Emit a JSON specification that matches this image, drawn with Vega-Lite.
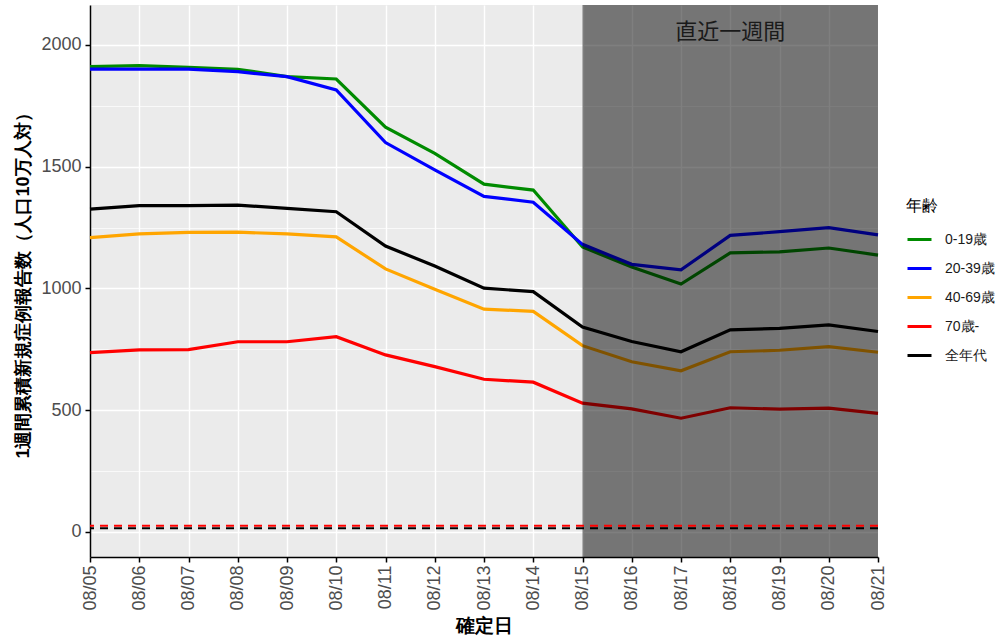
{
  "$schema": "https://vega.github.io/schema/vega-lite/v6.json",
  "width": 788,
  "height": 552,
  "autosize": {"type": "none"},
  "padding": {"left": 90, "top": 5, "right": 118, "bottom": 84},
  "background": "white",
  "config": {
    "view": {"fill": "#EBEBEB", "stroke": null},
    "font": "Liberation Sans"
  },
  "datasets": {
    "series": [
      {"date": "2020-08-05", "age": "0-19歳", "value": 1911},
      {"date": "2020-08-06", "age": "0-19歳", "value": 1915},
      {"date": "2020-08-07", "age": "0-19歳", "value": 1908},
      {"date": "2020-08-08", "age": "0-19歳", "value": 1900},
      {"date": "2020-08-09", "age": "0-19歳", "value": 1870},
      {"date": "2020-08-10", "age": "0-19歳", "value": 1860},
      {"date": "2020-08-11", "age": "0-19歳", "value": 1662},
      {"date": "2020-08-12", "age": "0-19歳", "value": 1555},
      {"date": "2020-08-13", "age": "0-19歳", "value": 1428},
      {"date": "2020-08-14", "age": "0-19歳", "value": 1404},
      {"date": "2020-08-15", "age": "0-19歳", "value": 1170},
      {"date": "2020-08-16", "age": "0-19歳", "value": 1088},
      {"date": "2020-08-17", "age": "0-19歳", "value": 1018},
      {"date": "2020-08-18", "age": "0-19歳", "value": 1146},
      {"date": "2020-08-19", "age": "0-19歳", "value": 1150},
      {"date": "2020-08-20", "age": "0-19歳", "value": 1166},
      {"date": "2020-08-21", "age": "0-19歳", "value": 1137},
      {"date": "2020-08-05", "age": "20-39歳", "value": 1901},
      {"date": "2020-08-06", "age": "20-39歳", "value": 1901},
      {"date": "2020-08-07", "age": "20-39歳", "value": 1901},
      {"date": "2020-08-08", "age": "20-39歳", "value": 1890},
      {"date": "2020-08-09", "age": "20-39歳", "value": 1870},
      {"date": "2020-08-10", "age": "20-39歳", "value": 1815},
      {"date": "2020-08-11", "age": "20-39歳", "value": 1599},
      {"date": "2020-08-12", "age": "20-39歳", "value": 1487},
      {"date": "2020-08-13", "age": "20-39歳", "value": 1378},
      {"date": "2020-08-14", "age": "20-39歳", "value": 1354},
      {"date": "2020-08-15", "age": "20-39歳", "value": 1181},
      {"date": "2020-08-16", "age": "20-39歳", "value": 1099},
      {"date": "2020-08-17", "age": "20-39歳", "value": 1076},
      {"date": "2020-08-18", "age": "20-39歳", "value": 1218},
      {"date": "2020-08-19", "age": "20-39歳", "value": 1233},
      {"date": "2020-08-20", "age": "20-39歳", "value": 1250},
      {"date": "2020-08-21", "age": "20-39歳", "value": 1220},
      {"date": "2020-08-05", "age": "40-69歳", "value": 1209},
      {"date": "2020-08-06", "age": "40-69歳", "value": 1224},
      {"date": "2020-08-07", "age": "40-69歳", "value": 1230},
      {"date": "2020-08-08", "age": "40-69歳", "value": 1231},
      {"date": "2020-08-09", "age": "40-69歳", "value": 1224},
      {"date": "2020-08-10", "age": "40-69歳", "value": 1212},
      {"date": "2020-08-11", "age": "40-69歳", "value": 1080},
      {"date": "2020-08-12", "age": "40-69歳", "value": 997},
      {"date": "2020-08-13", "age": "40-69歳", "value": 915},
      {"date": "2020-08-14", "age": "40-69歳", "value": 906},
      {"date": "2020-08-15", "age": "40-69歳", "value": 765},
      {"date": "2020-08-16", "age": "40-69歳", "value": 699},
      {"date": "2020-08-17", "age": "40-69歳", "value": 662},
      {"date": "2020-08-18", "age": "40-69歳", "value": 740},
      {"date": "2020-08-19", "age": "40-69歳", "value": 746},
      {"date": "2020-08-20", "age": "40-69歳", "value": 761},
      {"date": "2020-08-21", "age": "40-69歳", "value": 738},
      {"date": "2020-08-05", "age": "70歳-", "value": 736},
      {"date": "2020-08-06", "age": "70歳-", "value": 748},
      {"date": "2020-08-07", "age": "70歳-", "value": 749},
      {"date": "2020-08-08", "age": "70歳-", "value": 781},
      {"date": "2020-08-09", "age": "70歳-", "value": 781},
      {"date": "2020-08-10", "age": "70歳-", "value": 802},
      {"date": "2020-08-11", "age": "70歳-", "value": 727},
      {"date": "2020-08-12", "age": "70歳-", "value": 679},
      {"date": "2020-08-13", "age": "70歳-", "value": 627},
      {"date": "2020-08-14", "age": "70歳-", "value": 615},
      {"date": "2020-08-15", "age": "70歳-", "value": 529},
      {"date": "2020-08-16", "age": "70歳-", "value": 505},
      {"date": "2020-08-17", "age": "70歳-", "value": 467},
      {"date": "2020-08-18", "age": "70歳-", "value": 510},
      {"date": "2020-08-19", "age": "70歳-", "value": 504},
      {"date": "2020-08-20", "age": "70歳-", "value": 508},
      {"date": "2020-08-21", "age": "70歳-", "value": 487},
      {"date": "2020-08-05", "age": "全年代", "value": 1326},
      {"date": "2020-08-06", "age": "全年代", "value": 1340},
      {"date": "2020-08-07", "age": "全年代", "value": 1340},
      {"date": "2020-08-08", "age": "全年代", "value": 1342},
      {"date": "2020-08-09", "age": "全年代", "value": 1329},
      {"date": "2020-08-10", "age": "全年代", "value": 1315},
      {"date": "2020-08-11", "age": "全年代", "value": 1174},
      {"date": "2020-08-12", "age": "全年代", "value": 1092},
      {"date": "2020-08-13", "age": "全年代", "value": 1001},
      {"date": "2020-08-14", "age": "全年代", "value": 987},
      {"date": "2020-08-15", "age": "全年代", "value": 841},
      {"date": "2020-08-16", "age": "全年代", "value": 782},
      {"date": "2020-08-17", "age": "全年代", "value": 740},
      {"date": "2020-08-18", "age": "全年代", "value": 830},
      {"date": "2020-08-19", "age": "全年代", "value": 836},
      {"date": "2020-08-20", "age": "全年代", "value": 850},
      {"date": "2020-08-21", "age": "全年代", "value": 823}
    ]
  },
  "layer": [
    {
      "data": {"name": "series"},
      "mark": {"type": "line", "strokeWidth": 3.2},
      "encoding": {
        "x": {
          "field": "date",
          "type": "temporal",
          "title": "確定日",
          "scale": {
            "type": "utc",
            "nice": false,
            "domain": [
              {"year": 2020, "month": 8, "date": 5, "utc": true},
              {"year": 2020, "month": 8, "date": 21, "utc": true}
            ]
          },
          "axis": {
            "values": [1596585600000, 1596628800000, 1596672000000, 1596715200000, 1596758400000, 1596801600000, 1596844800000, 1596888000000, 1596931200000, 1596974400000, 1597017600000, 1597060800000, 1597104000000, 1597147200000, 1597190400000, 1597233600000, 1597276800000, 1597320000000, 1597363200000, 1597406400000, 1597449600000, 1597492800000, 1597536000000, 1597579200000, 1597622400000, 1597665600000, 1597708800000, 1597752000000, 1597795200000, 1597838400000, 1597881600000, 1597924800000, 1597968000000],
            "labelExpr": "(+datum.value) % 86400000 != 0 ? '' : ('08/' + ((floor((+datum.value) / 86400000) - 18474) < 10 ? '0' : '') + (floor((+datum.value) / 86400000) - 18474))",
            "labelAngle": -90,
            "labelFontSize": 18,
            "labelColor": "#4D4D4D",
            "labelOverlap": false,
            "labelFlush": false,
            "labelPadding": 3,
            "tickSize": 5,
            "tickWidth": 1.5,
            "tickColor": {"condition": {"test": "(+datum.value) % 86400000 != 0", "value": "transparent"}, "value": "black"},
            "gridColor": "white",
            "gridWidth": {"condition": {"test": "(+datum.value) % 86400000 != 0", "value": 0.7}, "value": 1.4},
            "domainColor": "black",
            "domainWidth": 1.5,
            "titleFontSize": 19,
            "titleFontWeight": "bold",
            "titleColor": "black",
            "titlePadding": 6
          }
        },
        "y": {
          "field": "value",
          "type": "quantitative",
          "title": "1週間累積新規症例報告数（人口10万人対）",
          "scale": {"domain": [-103, 2164], "nice": false, "zero": false},
          "axis": {
            "values": [0, 250, 500, 750, 1000, 1250, 1500, 1750, 2000],
            "labelExpr": "datum.value % 500 == 0 ? '' + datum.value : ''",
            "labelFontSize": 18,
            "labelColor": "#4D4D4D",
            "labelPadding": 4,
            "tickSize": 5,
            "tickWidth": 1.5,
            "tickColor": {"condition": {"test": "datum.value % 500 != 0", "value": "transparent"}, "value": "black"},
            "gridColor": "white",
            "gridWidth": {"condition": {"test": "datum.value % 500 != 0", "value": 0.7}, "value": 1.4},
            "domainColor": "black",
            "domainWidth": 1.5,
            "titleFontSize": 18,
            "titleFontWeight": "bold",
            "titleColor": "black",
            "titlePadding": 8
          }
        },
        "color": {
          "field": "age",
          "type": "nominal",
          "title": "年齢",
          "scale": {
            "domain": ["0-19歳", "20-39歳", "40-69歳", "70歳-", "全年代"],
            "range": ["#008B00", "#0000FF", "#FFA500", "#FF0000", "#000000"]
          },
          "legend": {
            "orient": "none",
            "legendX": 816,
            "legendY": 193,
            "titleFontSize": 16,
            "titleFontWeight": "normal",
            "titleColor": "black",
            "titlePadding": 12,
            "labelFontSize": 14,
            "labelColor": "#1A1A1A",
            "labelOffset": 12,
            "symbolType": "stroke",
            "symbolStrokeWidth": 3,
            "symbolSize": 576,
            "rowPadding": 8
          }
        }
      }
    },
    {
      "data": {"values": [{"start": "2020-08-15", "end": "2020-08-21"}]},
      "mark": {"type": "rect", "color": "black", "opacity": 0.5},
      "encoding": {
        "x": {"field": "start", "type": "temporal"},
        "x2": {"field": "end"}
      }
    },
    {
      "data": {"values": [{"level": 25, "kind": "a"}, {"level": 15, "kind": "b"}]},
      "mark": {"type": "rule", "strokeDash": [8, 6], "strokeWidth": 2},
      "encoding": {
        "y": {"field": "level", "type": "quantitative"},
        "stroke": {"field": "kind", "type": "nominal", "scale": {"domain": ["a", "b"], "range": ["#FF0000", "#000000"]}, "legend": null}
      }
    },
    {
      "data": {"values": [{"date": "2020-08-18", "y": 2053, "label": "直近一週間"}]},
      "mark": {"type": "text", "fontSize": 22, "color": "#1A1A1A", "font": "Noto Sans CJK JP"},
      "encoding": {
        "x": {"field": "date", "type": "temporal"},
        "y": {"field": "y", "type": "quantitative"},
        "text": {"field": "label"}
      }
    }
  ]
}
